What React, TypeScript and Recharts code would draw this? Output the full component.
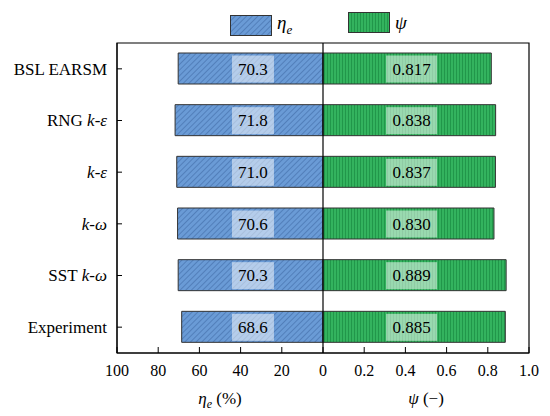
import { Bar, BarChart, LabelList, Legend, ReferenceArea, ReferenceLine, XAxis, YAxis } from 'recharts';

const categories = ['BSL EARSM', 'RNG k-ε', 'k-ε', 'k-ω', 'SST k-ω', 'Experiment'];
const etaValues = [70.3, 71.8, 71.0, 70.6, 70.3, 68.6];
const psiValues = [0.817, 0.838, 0.837, 0.83, 0.889, 0.885];
const etaTicks = [100, 80, 60, 40, 20, 0];
const psiTicks = [0.2, 0.4, 0.6, 0.8, 1.0];

// left half is eta as a fraction, drawn negative so both halves share one axis
const rows = categories.map((name, i) => ({
  name,
  eta: etaValues[i],
  psi: psiValues[i],
  etaNeg: -etaValues[i] / 100,
}));
const xTicks = [...etaTicks.map((v) => -v / 100), ...psiTicks];

const FONT = "'Liberation Serif', 'Times New Roman', 'DejaVu Serif', serif";
const serif = { fontFamily: FONT };
const BLUE = '#6a9bd6';
const GREEN = '#33b35e';

function fmtTick(v: number) {
  if (v < 0) return String(Math.round(-v * 100));
  if (v === 0) return '0';
  return v.toFixed(1);
}

function XTick({ x, y, payload }: any) {
  return (
    <g>
      <line x1={x} y1={y} x2={x} y2={y - 6} stroke="#000" />
      <text x={x} y={y + 23} textAnchor="middle" fontSize={16} style={serif} fill="#000">
        {fmtTick(payload.value)}
      </text>
    </g>
  );
}

function YTick({ x, y, payload }: any) {
  const words = String(payload.value).split(' ');
  return (
    <g>
      <line x1={x} y1={y} x2={x + 5} y2={y} stroke="#000" />
      <text x={x - 10} y={y} dy="0.35em" textAnchor="end" fontSize={17} style={serif} fill="#000">
        {words.map((w, i) => (
          <tspan key={i} fontStyle={w.startsWith('k-') ? 'italic' : 'normal'}>
            {(i > 0 ? ' ' : '') + w}
          </tspan>
        ))}
      </text>
    </g>
  );
}

function AxisTitles({ viewBox }: any) {
  const { x, y, width } = viewBox;
  const ty = y + 51;
  return (
    <g style={serif} fontSize={17} fill="#000">
      <text x={x + width / 4} y={ty} textAnchor="middle" style={serif}>
        <tspan fontStyle="italic">η</tspan>
        <tspan fontStyle="italic" fontSize={12} dy={4}>e</tspan>
        <tspan dy={-4}> (%)</tspan>
      </text>
      <text x={x + (width * 3) / 4} y={ty} textAnchor="middle" style={serif}>
        <tspan fontStyle="italic">ψ</tspan>
        <tspan> (−)</tspan>
      </text>
    </g>
  );
}

// value tag sits at a fixed spot in each half, not at the bar end
function valueTag(side: 'left' | 'right', at: number, digits: number, fill: string) {
  return (p: any) => {
    const vb = p.viewBox ?? p;
    const x0 = Math.min(vb.x, vb.x + vb.width);
    const x1 = Math.max(vb.x, vb.x + vb.width);
    const v = Number(p.value);
    const frac = side === 'left' ? v / 100 : v;
    const perUnit = (x1 - x0) / frac;
    const cx = side === 'left' ? x1 - at * perUnit : x0 + at * perUnit;
    const cy = vb.y + vb.height / 2;
    const w = digits === 1 ? 42 : 51;
    return (
      <g>
        <rect x={cx - w / 2} y={cy - 13} width={w} height={27} fill={fill} />
        <text x={cx} y={cy} dy="0.36em" textAnchor="middle" fontSize={17} style={serif} fill="#000">
          {v.toFixed(digits)}
        </text>
      </g>
    );
  };
}

function LegendBox() {
  const item = (left: number, fill: string, label: any) => (
    <div style={{ position: 'absolute', left, top: 12, display: 'flex', alignItems: 'center' }}>
      <svg width={42} height={21}>
        <rect x={0.5} y={0.5} width={41} height={20} fill={fill} stroke="#333" />
      </svg>
      <span style={{ marginLeft: 5, fontFamily: FONT, fontSize: 19, fontStyle: 'italic', lineHeight: '21px' }}>
        {label}
      </span>
    </div>
  );
  return (
    <div style={{ position: 'relative', width: 550, height: 36 }}>
      {item(230, 'url(#hatchBlue)', <>η<sub style={{ fontSize: 13 }}>e</sub></>)}
      {item(348, 'url(#stripeGreen)', 'ψ')}
    </div>
  );
}

export default function App() {
  return (
    <div style={{ position: 'absolute', left: 0, top: 0, width: 550, height: 416, background: '#fff', fontFamily: FONT }}>
      <BarChart
        width={550}
        height={416}
        data={rows}
        layout="vertical"
        stackOffset="sign"
        margin={{ top: 7, right: 21, left: 0, bottom: 0 }}
        style={serif}
      >
        <defs>
          <pattern id="hatchBlue" width="4" height="4" patternUnits="userSpaceOnUse" patternTransform="rotate(45)">
            <rect width="4" height="4" fill={BLUE} />
            <line x1="0" y1="0" x2="0" y2="4" stroke="#3d68a3" strokeWidth="1.1" />
          </pattern>
          <pattern id="stripeGreen" width="3" height="3" patternUnits="userSpaceOnUse">
            <rect width="3" height="3" fill={GREEN} />
            <line x1="0.5" y1="0" x2="0.5" y2="3" stroke="#1f9447" strokeWidth="0.9" />
          </pattern>
        </defs>
        <Legend
          verticalAlign="top"
          content={() => <LegendBox />}
          wrapperStyle={{ left: 0, top: 0, width: 550, height: 36 }}
        />
        <XAxis
          type="number"
          domain={[-1, 1]}
          ticks={xTicks}
          height={63}
          tickSize={0}
          tickMargin={0}
          tick={<XTick />}
          axisLine={{ stroke: '#000' }}
          tickLine={false}
          interval={0}
          label={{ content: (p: any) => <AxisTitles {...p} /> }}
        />
        <YAxis
          type="category"
          dataKey="name"
          width={117}
          tickSize={0}
          tickMargin={0}
          tick={<YTick />}
          axisLine={{ stroke: '#000' }}
          tickLine={false}
          interval={0}
        />
        <Bar dataKey="etaNeg" stackId="s" barSize={31} fill="url(#hatchBlue)" stroke="#333" strokeWidth={1} isAnimationActive={false}>
          <LabelList dataKey="eta" content={valueTag('left', 0.34, 1, 'rgba(255,255,255,0.5)')} />
        </Bar>
        <Bar dataKey="psi" stackId="s" barSize={31} fill="url(#stripeGreen)" stroke="#333" strokeWidth={1} isAnimationActive={false}>
          <LabelList dataKey="psi" content={valueTag('right', 0.43, 3, 'rgba(255,255,255,0.5)')} />
        </Bar>
        <ReferenceArea x1={-1} x2={1} fill="none" stroke="#000" strokeWidth={1.2} />
        <ReferenceLine x={0} stroke="#000" strokeWidth={1.2} />
      </BarChart>
    </div>
  );
}
